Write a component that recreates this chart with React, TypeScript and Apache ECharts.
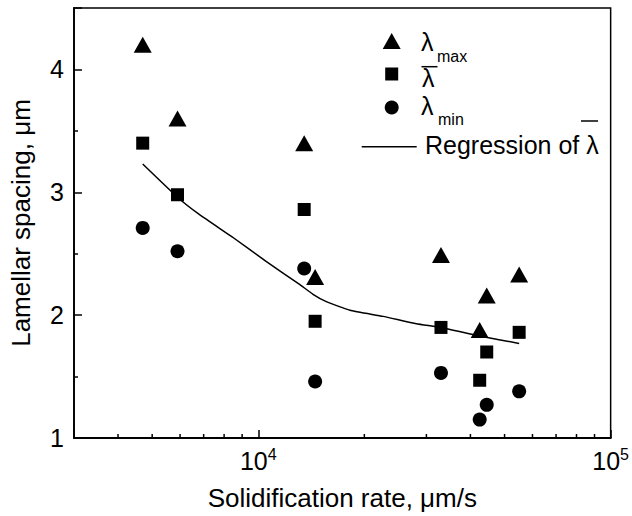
import React, { useEffect, useRef } from "react";
import * as echarts from "echarts";

const rate = [4700, 5900, 13500, 14500, 33000, 42500, 44500, 55000];
const lambdaMax = [4.2, 3.6, 3.4, 2.31, 2.49, 1.88, 2.16, 2.33];
const lambdaAvg = [3.4, 2.98, 2.86, 1.95, 1.9, 1.47, 1.7, 1.86];
const lambdaMin = [2.71, 2.52, 2.38, 1.46, 1.53, 1.15, 1.27, 1.38];

const regRate = [4700, 5900, 6800, 8500, 10500, 13100, 14300, 15600, 18200, 22600, 28100, 33000, 42500, 55000];
const regValue = [3.23, 2.96, 2.82, 2.63, 2.44, 2.25, 2.17, 2.11, 2.04, 1.99, 1.93, 1.9, 1.83, 1.77];

const xMinorTicks = [4000, 5000, 6000, 7000, 8000, 9000, 20000, 30000, 40000, 50000, 60000, 70000, 80000, 90000];

const FONT = "'Liberation Sans', Arial, Helvetica, sans-serif";

export default function App() {
  const ref = useRef<HTMLDivElement>(null);
  useEffect(() => {
    if (!ref.current) return;
    const chart = echarts.init(ref.current, null, { renderer: "svg" });
    const pairs = (xs: number[], ys: number[]) => xs.map((x, i) => [x, ys[i]]);
    const option: any = {
      animation: false,
      backgroundColor: "#fff",
      textStyle: { fontFamily: FONT, color: "#000" },
      grid: {
        left: 74,
        right: 21,
        top: 8,
        bottom: 77,
        show: true,
        borderColor: "#000",
        borderWidth: 1.5,
      },
      xAxis: {
        type: "log",
        logBase: 10,
        min: 3000,
        max: 100000,
        name: "Solidification rate, μm/s",
        nameLocation: "middle",
        nameGap: 47,
        nameTextStyle: { fontSize: 26, fontFamily: FONT, color: "#000" },
        axisLine: { show: true, lineStyle: { color: "#000", width: 1.8 } },
        axisTick: { show: true, inside: true, length: 8, lineStyle: { color: "#000", width: 1.5 } },
        splitLine: { show: false },
        axisLabel: {
          margin: 8,
          color: "#000",
          fontFamily: FONT,
          formatter: (v: number) => {
            const e = Math.round(Math.log10(v));
            if (Math.abs(v - Math.pow(10, e)) / v < 1e-6) return `{b|10}{s|${e}}`;
            return "";
          },
          rich: {
            b: { fontSize: 25, fontFamily: FONT, color: "#000" },
            s: { fontSize: 16, fontFamily: FONT, color: "#000", padding: [0, 0, 14, 0] },
          },
        },
      },
      yAxis: {
        type: "value",
        min: 1,
        max: 4.5,
        interval: 1,
        name: "Lamellar spacing, μm",
        nameLocation: "middle",
        nameGap: 40,
        nameTextStyle: { fontSize: 26, fontFamily: FONT, color: "#000" },
        axisLine: { show: true, lineStyle: { color: "#000", width: 1.8 } },
        axisTick: { show: true, inside: true, length: 8, lineStyle: { color: "#000", width: 1.5 } },
        minorTick: { show: true, splitNumber: 2, length: 4, lineStyle: { color: "#000", width: 1.5 } },
        splitLine: { show: false },
        axisLabel: {
          margin: 10,
          fontSize: 25,
          color: "#000",
          fontFamily: FONT,
          formatter: (v: number) => (Number.isInteger(v) ? String(v) : ""),
        },
      },
      series: [
        {
          type: "custom",
          silent: true,
          clip: false,
          data: xMinorTicks.map((v) => [v, 1]),
          renderItem: (params: any, api: any) => {
            const p = api.coord([api.value(0), api.value(1)]);
            return {
              type: "line",
              shape: { x1: p[0], y1: p[1], x2: p[0], y2: p[1] - 4 },
              style: { stroke: "#000", lineWidth: 1.5 },
            };
          },
          z: 10,
        },
        {
          name: "Regression",
          type: "line",
          data: pairs(regRate, regValue),
          smooth: 0.15,
          showSymbol: false,
          lineStyle: { color: "#000", width: 1.5 },
        },
        {
          name: "λmax",
          type: "scatter",
          symbol: "triangle",
          symbolSize: [18, 16],
          itemStyle: { color: "#000", opacity: 1 },
          data: pairs(rate, lambdaMax),
        },
        {
          name: "λavg",
          type: "scatter",
          symbol: "rect",
          symbolSize: 13,
          itemStyle: { color: "#000", opacity: 1 },
          data: pairs(rate, lambdaAvg),
        },
        {
          name: "λmin",
          type: "scatter",
          symbol: "circle",
          symbolSize: 14,
          itemStyle: { color: "#000", opacity: 1 },
          data: pairs(rate, lambdaMin),
        },
      ],
      graphic: [
        {
          type: "polygon",
          shape: { points: [[382.7, 49], [400.7, 49], [391.7, 33]] },
          style: { fill: "#000" },
        },
        { type: "rect", shape: { x: 385.2, y: 67.5, width: 13, height: 13 }, style: { fill: "#000" } },
        { type: "circle", shape: { cx: 391.7, cy: 107.5, r: 7 }, style: { fill: "#000" } },
        {
          type: "line",
          shape: { x1: 361.7, y1: 146.7, x2: 416.7, y2: 146.7 },
          style: { stroke: "#000", lineWidth: 1.5 },
        },
        {
          type: "text",
          x: 421,
          y: 42,
          style: { text: "λ", font: `25px ${FONT}`, fill: "#000", verticalAlign: "middle", align: "left" },
        },
        {
          type: "text",
          x: 437,
          y: 56,
          style: { text: "max", font: `16px ${FONT}`, fill: "#000", verticalAlign: "middle", align: "left" },
        },
        {
          type: "line",
          shape: { x1: 421.5, y1: 66.7, x2: 437.5, y2: 66.7 },
          style: { stroke: "#000", lineWidth: 1.5 },
        },
        {
          type: "text",
          x: 422,
          y: 78,
          style: { text: "λ", font: `25px ${FONT}`, fill: "#000", verticalAlign: "middle", align: "left" },
        },
        {
          type: "text",
          x: 421,
          y: 106,
          style: { text: "λ", font: `25px ${FONT}`, fill: "#000", verticalAlign: "middle", align: "left" },
        },
        {
          type: "text",
          x: 438,
          y: 119,
          style: { text: "min", font: `16px ${FONT}`, fill: "#000", verticalAlign: "middle", align: "left" },
        },
        {
          type: "text",
          x: 425,
          y: 145,
          style: {
            text: "Regression of λ",
            font: `25px ${FONT}`,
            fill: "#000",
            verticalAlign: "middle",
            align: "left",
          },
        },
        {
          type: "line",
          shape: { x1: 581, y1: 121, x2: 598, y2: 121 },
          style: { stroke: "#000", lineWidth: 1.5 },
        },
      ],
    };
    chart.setOption(option);
    return () => chart.dispose();
  }, []);
  return (
    <div
      ref={ref}
      style={{ position: "fixed", left: 0, top: 0, width: 632, height: 516, background: "#fff" }}
    />
  );
}
